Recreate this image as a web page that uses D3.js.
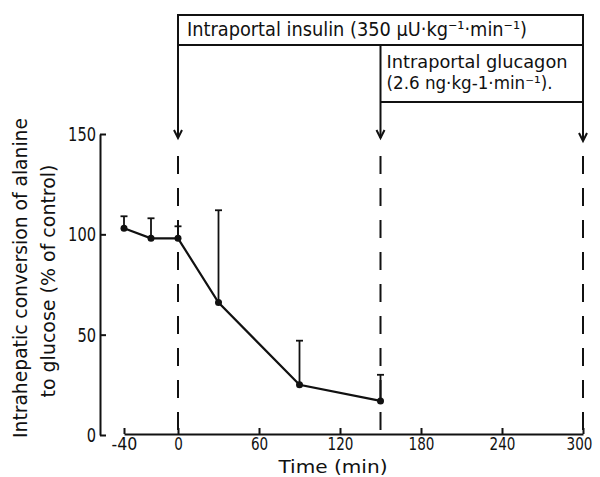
<!DOCTYPE html>
<html><head><meta charset="utf-8">
<script src="https://cdn.jsdelivr.net/npm/d3@7"></script>
<style>
body{margin:0;background:#fff;}
text{font-family:"DejaVu Sans Condensed","DejaVu Sans",sans-serif;fill:#111;}
</style></head><body>
<svg id="c" width="600" height="477"></svg>
<script>
const times = [-40, -20, 0, 30, 90, 150];
const means = [103, 98, 98, 66, 25, 17];
const errTops = [109, 108, 104, 112, 47, 30];
const xTicks = [-40, 0, 60, 120, 180, 240, 300];
const yTicks = [0, 50, 100, 150];
const markers = [0, 150, 300];
const yTitle = ["Intrahepatic conversion of alanine", "to glucose (% of control)"];
const xTitle = "Time (min)";
const box1 = "Intraportal insulin (350 \u00B5U\u00B7kg\u207B\u00B9\u00B7min\u207B\u00B9)";
const box2 = ["Intraportal glucagon", "(2.6 ng\u00B7kg-1\u00B7min\u207B\u00B9)."];

const svg = d3.select("#c");
const x = d3.scaleLinear().domain([-40, 300]).range([124, 583]);
const y = d3.scaleLinear().domain([0, 150]).range([435, 134]);
const ink = "#111";
const fs = 20;
const fmt = d => String(d);

// Y axis
const ya = svg.append("g").attr("transform","translate(100,0)")
  .call(d3.axisLeft(y).tickValues(yTicks).tickFormat(fmt).tickSizeInner(-6).tickSizeOuter(0).tickPadding(4));
ya.select(".domain").attr("stroke",ink).attr("stroke-width",2);
ya.selectAll(".tick line").attr("stroke",ink).attr("stroke-width",2);
ya.selectAll(".tick text").attr("font-size",20).attr("fill",ink).attr("font-family",null)
  .attr("textLength",d=>fmt(d).length*9.3).attr("lengthAdjust","spacingAndGlyphs");

// X axis
const xa = svg.append("g").attr("transform",`translate(0,${y(0)-1})`)
  .call(d3.axisBottom(x).tickValues(xTicks).tickFormat(fmt).tickSizeInner(-6).tickSizeOuter(0).tickPadding(3));
xa.select(".domain").attr("stroke",ink).attr("stroke-width",2);
xa.selectAll(".tick line").attr("stroke",ink).attr("stroke-width",2);
xa.selectAll(".tick text").attr("font-size",18).attr("fill",ink).attr("font-family",null)
  .attr("textLength",d=>fmt(d).length*8.6).attr("lengthAdjust","spacingAndGlyphs")
  .attr("dx",(d,i,n)=> i===n.length-1 ? -4 : 0);

function label(xp, yp, txt, len, anchor, rot, size) {
  const t = svg.append("text").attr("font-size",size||fs).attr("text-anchor",anchor||"start")
    .attr("textLength",len).attr("lengthAdjust","spacingAndGlyphs").text(txt);
  if (rot) t.attr("transform",`translate(${xp},${yp}) rotate(-90)`);
  else t.attr("x",xp).attr("y",yp);
  return t;
}

// Titles
label(27, 278, yTitle[0], 320, "middle", true);
label(55, 281, yTitle[1], 233, "middle", true);
label(333, 472.5, xTitle, 109, "middle", false, 18);

// Dashed marker lines
svg.selectAll(".dash").data(markers).enter().append("line")
  .attr("x1",d=>x(d)).attr("x2",d=>x(d)).attr("y1",156).attr("y2",y(0))
  .attr("stroke",ink).attr("stroke-width",2).attr("stroke-dasharray","18,14");

// Boxes
const bTop = 15, bMid = 45, bBot = 102;
const g = svg.append("g").attr("stroke",ink).attr("stroke-width",2).attr("fill","none");
g.append("rect").attr("x",x(0)).attr("y",bTop).attr("width",x(300)-x(0)).attr("height",bMid-bTop);
g.append("line").attr("x1",x(150)).attr("x2",x(300)).attr("y1",bBot).attr("y2",bBot);
const arrows = [{t:0,y0:bMid,y1:138},{t:150,y0:bMid,y1:138},{t:300,y0:bMid,y1:141}];
arrows.forEach(a=>{
  g.append("line").attr("x1",x(a.t)).attr("x2",x(a.t)).attr("y1",a.y0).attr("y2",a.y1);
  g.append("path").attr("d",`M${x(a.t)-4},${a.y1-8}L${x(a.t)},${a.y1}L${x(a.t)+4},${a.y1-8}`);
});
label(x(0)+9, 36, box1, 340);
label(x(150)+6, 68, box2[0], 181, "start", false, 17);
label(x(150)+6, 89, box2[1], 166, "start", false, 17);

// Error bars
const eb = svg.append("g").attr("stroke",ink).attr("stroke-width",1.8);
times.forEach((t,i)=>{
  eb.append("line").attr("x1",x(t)).attr("x2",x(t)).attr("y1",y(means[i])).attr("y2",y(errTops[i]));
  eb.append("line").attr("x1",x(t)-3.5).attr("x2",x(t)+3.5).attr("y1",y(errTops[i])).attr("y2",y(errTops[i]));
});

// Line + points
const line = d3.line().x((d,i)=>x(times[i])).y(d=>y(d));
svg.append("path").datum(means).attr("d",line).attr("fill","none").attr("stroke",ink).attr("stroke-width",2.2);
svg.selectAll(".pt").data(means).enter().append("circle")
  .attr("cx",(d,i)=>x(times[i])).attr("cy",d=>y(d)).attr("r",3.5).attr("fill",ink);
</script></body></html>
